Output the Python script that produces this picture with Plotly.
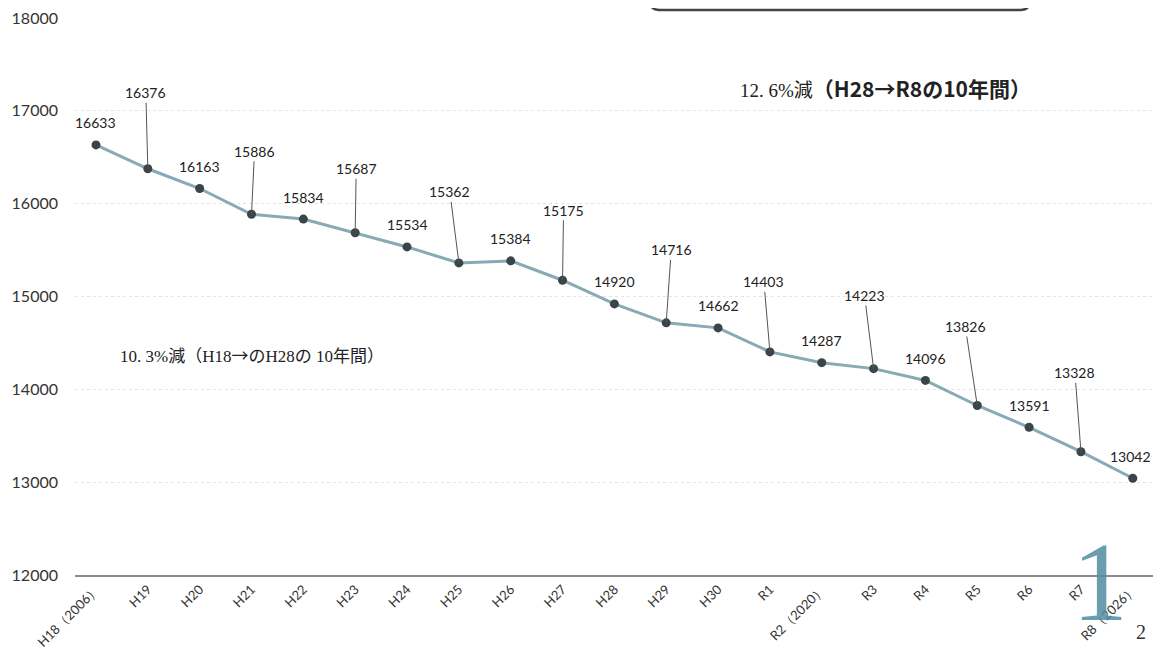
import plotly.graph_objects as go

# ---- data ----
categories = ["H18（2006）", "H19", "H20", "H21", "H22", "H23", "H24", "H25", "H26", "H27",
              "H28", "H29", "H30", "R1", "R2（2020）", "R3", "R4", "R5", "R6", "R7", "R8（2026）"]
values = [16633, 16376, 16163, 15886, 15834, 15687, 15534, 15362, 15384, 15175,
          14920, 14716, 14662, 14403, 14287, 14223, 14096, 13826, 13591, 13328, 13042]
y_ticks = [12000, 13000, 14000, 15000, 16000, 17000, 18000]
y_tick_labels = [str(t) for t in y_ticks]

GOTHIC = "font-family:'Noto Sans CJK JP';font-size:21px"
note_right = f"12. 6%減<span style=\"{GOTHIC}\"><b>（H28→R8の10年間）</b></span>"
note_left = "10. 3%減（H18<span style=\"font-family:'Noto Sans CJK JP'\">→</span>のH28の 10年間）"

# label placement style (pixel offsets of value labels); leader-line labels listed here
leader_offsets = {1: (-2, -76), 3: (3, -63), 5: (1, -64), 7: (-9, -71), 9: (1, -70),
                  11: (5, -73), 13: (-6, -70), 15: (-9, -73), 17: (-12, -79), 19: (-6, -79)}

LABEL_FONT = dict(family="Lato, Open Sans, sans-serif", size=14, color="#222222")

fig = go.Figure()
fig.add_trace(go.Scatter(
    x=categories, y=values, mode="lines+markers",
    line=dict(color="#86aab6", width=3),
    marker=dict(size=9, color="#3d4447"),
    hoverinfo="x+y", showlegend=False,
))

annotations = []
last = len(values) - 1
for i, (c, v) in enumerate(zip(categories, values)):
    if i in leader_offsets:
        ax, ay = leader_offsets[i]
        annotations.append(dict(
            x=c, y=v, xref="x", yref="y", text=str(v), showarrow=True,
            arrowhead=0, arrowwidth=1, arrowcolor="#555555", standoff=0,
            ax=ax, ay=ay, font=LABEL_FONT,
        ))
    else:
        annotations.append(dict(
            x=c, y=v, xref="x", yref="y", text=str(v), showarrow=False,
            yshift=22, xshift=(-2 if i == last else 0), font=LABEL_FONT,
        ))

annotations.append(dict(
    x=0.752, y=0.874, xref="paper", yref="paper", text=note_right, showarrow=False,
    xanchor="center", yanchor="middle",
    font=dict(family="Liberation Serif, Noto Sans CJK JP, serif", size=19, color="#222222"),
))
annotations.append(dict(
    x=0.0399, y=0.395, xref="paper", yref="paper", text=note_left, showarrow=False,
    xanchor="left", yanchor="middle",
    font=dict(family="Liberation Serif, Noto Sans CJK JP, serif", size=17, color="#222222"),
))
# page number from the scan
annotations.append(dict(
    x=0.951, y=-0.012, xref="paper", yref="paper", text="1", showarrow=False,
    xanchor="center", yanchor="middle",
    font=dict(family="Liberation Serif, serif", size=112, color="rgba(80,140,160,0.85)"),
))
annotations.append(dict(
    x=0.989, y=-0.102, xref="paper", yref="paper", text="2", showarrow=False,
    xanchor="center", yanchor="middle",
    font=dict(family="Liberation Serif, serif", size=20, color="#333333"),
))

x0, x1, yb, yt = 0.533, 0.886, 1.0144, 1.08
rx, ry = 0.0093, 0.018
box_path = (f"M {x0},{yt} L {x0},{yb+ry} Q {x0},{yb} {x0+rx},{yb} "
            f"L {x1-rx},{yb} Q {x1},{yb} {x1},{yb+ry} L {x1},{yt}")

fig.update_layout(
    width=1145, height=649, autosize=False,
    margin=dict(l=67, r=0, t=10, b=82),
    paper_bgcolor="white", plot_bgcolor="white",
    annotations=annotations,
    shapes=[dict(type="path", path=box_path, xref="paper", yref="paper",
                 line=dict(color="#444444", width=2.5))],
    xaxis=dict(
        type="category", range=[-0.405, 20.39], tickangle=-45,
        tickfont=dict(family="Lato, Open Sans, sans-serif", size=13, color="#333333"),
        showline=True, linecolor="#8a8a8a", linewidth=1.5, showgrid=False,
        ticks="", ticklabeloverflow="allow",
    ),
    yaxis=dict(
        range=[12000, 18000], tickvals=y_ticks, ticktext=y_tick_labels, showgrid=True,
        gridcolor="#e4e4e4", griddash="dot", gridwidth=1, zeroline=False,
        tickfont=dict(family="Lato, Open Sans, sans-serif", size=16, color="#333333"),
        ticklabelstandoff=16, showline=False, ticklabeloverflow="allow",
    ),
)

fig.write_html("out.html")
